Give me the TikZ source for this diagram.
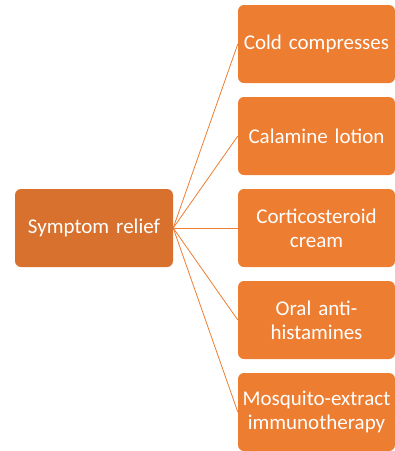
\documentclass[tikz,border=0pt]{standalone}
\usepackage{fontspec}
\setmainfont{Carlito}
\definecolor{leftorange}{HTML}{D7712D}
\definecolor{rightorange}{HTML}{ED7D31}
\tikzset{
  item/.style={fill=rightorange, rounded corners=6pt, minimum width=157pt,
    minimum height=78pt, text width=155pt, align=center, text=white,
    font=\fontsize{21}{24}\selectfont, inner sep=0pt},
  root/.style={item, fill=leftorange, minimum width=158pt},
  link/.style={draw=rightorange, line width=0.8pt}
}
\begin{document}
\begin{tikzpicture}[x=1pt, y=-1pt]
          \useasboundingbox (0, 0) rectangle (395, 451);
          \node[root] (relief) at (94, 228) {Symptom relief};
          \node[item] (cold) at (316.5, 44) {Cold compresses};
          \node[item] (calamine) at (316.5, 136) {Calamine lotion};
          \node[item] (cortico) at (316.5, 228) {Corticosteroid\\cream};
          \node[item] (oral) at (316.5, 320) {Oral anti-\\histamines};
          \node[item] (mosquito) at (316.5, 412) {Mosquito-extract\\immunotherapy};
          \foreach \target in {cold, calamine, cortico, oral, mosquito}
            \draw[link] (relief.east) -- (\target.west);
    \end{tikzpicture}
\end{document}
